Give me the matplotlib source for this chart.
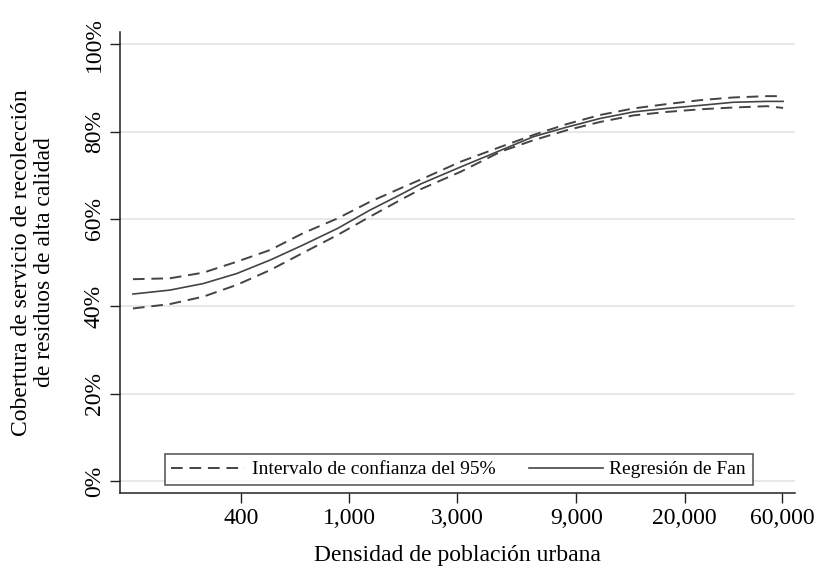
import matplotlib
matplotlib.use("Agg")
import matplotlib.pyplot as plt

plt.rcParams['font.family'] = ['Liberation Serif', 'DejaVu Serif']

# eje x: log de la densidad (posicion en el grafico)
log_dens = [5.0, 5.34, 5.65, 5.96, 6.27, 6.57, 6.89, 7.19, 7.50, 7.66, 8.03,
            8.40, 8.70, 9.01, 9.32, 9.63, 9.94, 10.25, 10.55, 10.86, 11.01]
fan = [42.8, 43.7, 45.2, 47.5, 50.6, 54.0, 57.8, 62.0, 65.9, 68.0, 71.9,
       75.7, 78.8, 81.0, 83.0, 84.5, 85.3, 86.0, 86.7, 86.9, 86.9]
ci_upper = [46.2, 46.4, 47.7, 50.2, 52.9, 56.7, 60.1, 63.9, 67.3, 69.0, 73.1,
            76.5, 79.2, 81.7, 83.8, 85.3, 86.3, 87.2, 87.8, 88.1, 88.1]
ci_lower = [39.5, 40.5, 42.2, 44.9, 48.3, 52.2, 56.3, 60.5, 64.7, 66.8, 70.8,
            75.4, 78.0, 80.3, 82.2, 83.7, 84.5, 85.1, 85.5, 85.8, 85.4]

xtick_pos = [6.0, 7.0, 8.0, 9.1, 10.1, 11.0]
xtick_labels = ['400', '1,000', '3,000', '9,000', '20,000', '60,000']
ytick_vals = [0, 20, 40, 60, 80, 100]

line_col = '#444444'
dash = (0, (6, 3.5))

fig = plt.figure(figsize=(8.2, 5.7), dpi=100)
ax = fig.add_axes([0.1463, 0.135, 0.8232, 0.809])

l1, = ax.plot(log_dens, ci_upper, color=line_col, lw=1.4, ls=dash)
ax.plot(log_dens, ci_lower, color=line_col, lw=1.4, ls=dash)
l2, = ax.plot(log_dens, fan, color=line_col, lw=1.2)

ax.set_xlim(4.88, 11.12)
ax.set_ylim(-2.75, 102.8)
ax.set_xticks(xtick_pos)
ax.set_xticklabels(xtick_labels, fontsize=17)
ax.set_yticks(ytick_vals)
ax.set_yticklabels([f'{v}%' for v in ytick_vals], fontsize=17, rotation=90, va='center')
ax.tick_params(axis='both', length=7, width=1, color='#222222', pad=4)

ax.grid(axis='y', color='#e8e8e8', lw=1.5)
ax.set_axisbelow(True)
for s in ['top', 'right']:
    ax.spines[s].set_visible(False)
for s in ['left', 'bottom']:
    ax.spines[s].set_color('#222222')
    ax.spines[s].set_linewidth(1.1)

ax.set_xlabel('Densidad de población urbana', fontsize=17, labelpad=11)
ax.set_ylabel('Cobertura de servicio de recolección\nde residuos de alta calidad',
              fontsize=17, labelpad=21, linespacing=1.1)

leg = ax.legend([l1, l2], ['Intervalo de confianza del 95%', 'Regresión de Fan'],
                ncol=2, loc='lower left', bbox_to_anchor=(0.066, 0.017),
                fontsize=14, frameon=True, fancybox=False, edgecolor='#222222',
                handlelength=3.8, columnspacing=1.7, handletextpad=0.35,
                borderpad=0.35, borderaxespad=0)
leg.get_frame().set_linewidth(1.1)

fig.savefig('out.png', dpi=100)
